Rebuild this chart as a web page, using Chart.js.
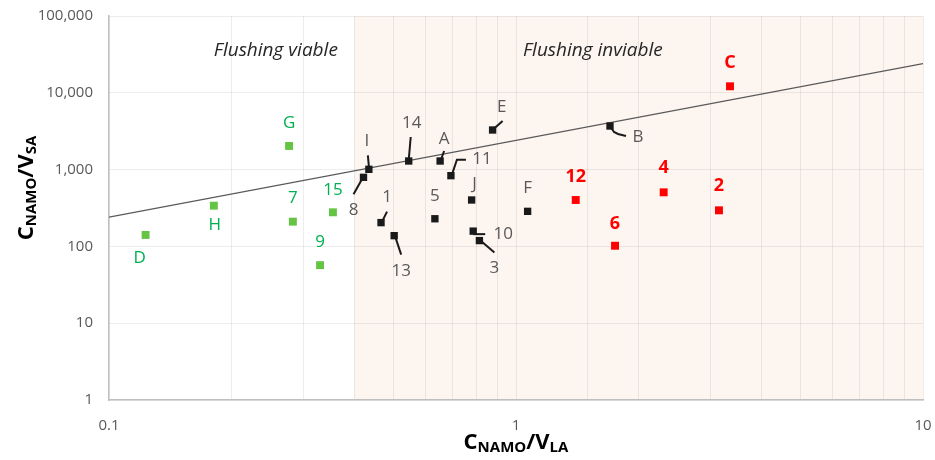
<!DOCTYPE html>
<html>
<head>
<meta charset="utf-8">
<script src="https://cdn.jsdelivr.net/npm/chart.js@4.4.1/dist/chart.umd.min.js"></script>
<style>
  html, body { margin: 0; padding: 0; background: #ffffff; }
  #wrap { position: relative; width: 935px; height: 460px; }
</style>
</head>
<body>
<div id="wrap"><canvas id="c" width="935" height="460"></canvas></div>
<script>
// ---------- data ----------
const greenNames = ['D', 'H', '7', '9', '15', 'G'];
const greenX = [0.123, 0.181, 0.283, 0.330, 0.355, 0.277];
const greenY = [141, 339, 210, 57, 278, 2030];

const blackNames = ['I', '8', '14', 'A', '11', 'E', '1', '13', '5', 'J', '10', '3', 'F', 'B'];
const blackX = [0.435, 0.422, 0.545, 0.651, 0.692, 0.876, 0.466, 0.502, 0.632, 0.778, 0.785, 0.813, 1.068, 1.702];
const blackY = [1009, 793, 1294, 1294, 834, 3279, 204, 138, 229, 402, 158, 119, 286, 3697];

const redNames = ['12', '6', '4', '2', 'C'];
const redX = [1.402, 1.751, 2.306, 3.153, 3.356];
const redY = [402, 102, 506, 295, 12156];

const trendX = [0.1, 10];
const trendY = [240, 24000];

const xDecades = [0.1, 1, 10];
const yDecades = [1, 10, 100, 1000, 10000, 100000];

const inviableFrom = 0.4;
const inviableTo = 10;
const regionTexts = ['Flushing viable', 'Flushing inviable'];
const regionTextX = [0.257, 1.545];
const regionTextY = 35000;

// ---------- label layout (pixel offsets from the point) ----------
const labelLayout = {
  'D': {d: [-6, 23]}, 'H': {d: [1, 19]}, '7': {d: [0, -23]}, '9': {d: [0, -23]},
  '15': {d: [0, -22]}, 'G': {d: [0, -23]},
  'I': {d: [-2, -28], l: [[-1, -14], [0, -3]]},
  '8': {d: [-10, 33], l: [[-10, 17], [-1, 1]]},
  '14': {d: [3, -38], l: [[2, -24], [0, -1]]},
  'A': {d: [4, -22], l: [[4, -10], [1, -2]]},
  '11': {d: [31, -16], l: [[15, -16], [6, -16], [1, -1]]},
  'E': {d: [9, -23], l: [[10, -9], [1, -1]]},
  '1': {d: [6, -25], l: [[6, -11], [1, -1]]},
  '13': {d: [7, 35], l: [[1, 1], [7, 19]]},
  '5': {d: [0, -23]}, 'J': {d: [3, -16]},
  '10': {d: [30, 3], l: [[0, 3], [12, 3]]},
  '3': {d: [15, 28], l: [[1, 0], [15, 12]]},
  'F': {d: [0, -23]},
  'B': {d: [28, 11], l: [[0, 0], [4, 6], [8, 8], [16, 10]]},
  '12': {d: [0, -23]}, '6': {d: [0, -22]}, '4': {d: [0, -24]}, '2': {d: [0, -24]}, 'C': {d: [0, -23]}
};

const pts = (xs, ys) => xs.map((x, i) => ({x: x, y: ys[i]}));

const groups = [
  {names: greenNames, color: '#00b050', font: '17px "Open Sans"'},
  {names: blackNames, color: '#595959', font: '17px "Open Sans"'},
  {names: redNames, color: '#ff0000', font: 'bold 18px "Open Sans"'}
];

const bgPlugin = {
  id: 'bg',
  beforeDraw(chart) {
    const {ctx, chartArea, scales} = chart;
    const x0 = scales.x.getPixelForValue(inviableFrom);
    const x1 = scales.x.getPixelForValue(inviableTo);
    ctx.save();
    ctx.fillStyle = '#fdf5f0';
    ctx.fillRect(x0, chartArea.top, x1 - x0, chartArea.bottom - chartArea.top);
    ctx.restore();
  }
};

function drawSubTitle(ctx, parts, cx, cy) {
  let total = 0;
  const widths = parts.map(p => {
    ctx.font = p[1] ? 'bold 15px "Open Sans"' : 'bold 22px "Open Sans"';
    const w = ctx.measureText(p[0]).width;
    total += w;
    return w;
  });
  let x = cx - total / 2;
  parts.forEach((p, i) => {
    ctx.font = p[1] ? 'bold 15px "Open Sans"' : 'bold 22px "Open Sans"';
    ctx.fillText(p[0], x, cy + (p[1] ? 5 : 0));
    x += widths[i];
  });
}

const labelPlugin = {
  id: 'labels',
  afterDatasetsDraw(chart) {
    const {ctx, scales} = chart;
    ctx.save();
    ctx.fillStyle = '#262626';
    ctx.font = 'italic 19px "Open Sans"';
    ctx.textAlign = 'center';
    ctx.textBaseline = 'middle';
    regionTexts.forEach((t, i) => {
      ctx.fillText(t, scales.x.getPixelForValue(regionTextX[i]), scales.y.getPixelForValue(regionTextY));
    });
    groups.forEach((g, gi) => {
      const meta = chart.getDatasetMeta(gi);
      meta.data.forEach((el, i) => {
        const name = g.names[i];
        const lay = labelLayout[name];
        if (!lay) return;
        if (lay.l) {
          ctx.strokeStyle = '#1a1a1a';
          ctx.lineWidth = 2;
          ctx.beginPath();
          lay.l.forEach((p, k) => {
            if (k === 0) ctx.moveTo(el.x + p[0], el.y + p[1]);
            else ctx.lineTo(el.x + p[0], el.y + p[1]);
          });
          ctx.stroke();
        }
        ctx.fillStyle = g.color;
        ctx.font = g.font;
        ctx.fillText(name, el.x + lay.d[0], el.y + lay.d[1]);
      });
    });
    ctx.restore();
  },
  afterDraw(chart) {
    const {ctx, chartArea} = chart;
    ctx.save();
    ctx.fillStyle = '#000000';
    ctx.textBaseline = 'middle';
    ctx.textAlign = 'left';
    drawSubTitle(ctx, [['C', false], ['NAMO', true], ['/V', false], ['LA', true]],
      (chartArea.left + chartArea.right) / 2, 443);
    ctx.translate(27, 188);
    ctx.rotate(-Math.PI / 2);
    drawSubTitle(ctx, [['C', false], ['NAMO', true], ['/V', false], ['SA', true]], 0, 0);
    ctx.restore();
  }
};

new Chart(document.getElementById('c'), {
  type: 'scatter',
  data: {
    datasets: [
      {label: 'viable', data: pts(greenX, greenY), backgroundColor: '#66c445', borderColor: '#66c445',
       pointStyle: 'rect', pointRadius: 5.6, borderWidth: 0},
      {label: 'near', data: pts(blackX, blackY), backgroundColor: '#1a1a1a', borderColor: '#1a1a1a',
       pointStyle: 'rect', pointRadius: 5.2, borderWidth: 0},
      {label: 'inviable', data: pts(redX, redY), backgroundColor: '#ff0000', borderColor: '#ff0000',
       pointStyle: 'rect', pointRadius: 5.6, borderWidth: 0},
      {type: 'line', label: 'trend', data: pts(trendX, trendY), borderColor: '#595959', borderWidth: 1.2,
       pointRadius: 0, showLine: true, fill: false}
    ]
  },
  options: {
    responsive: false,
    animation: false,
    events: [],
    layout: {padding: {left: 0, right: 12, top: 16, bottom: 0}},
    plugins: {legend: {display: false}, tooltip: {enabled: false}},
    scales: {
      x: {
        type: 'logarithmic', min: 0.1, max: 10,
        grid: {color: 'rgba(0,0,0,0.07)', drawTicks: false},
        border: {color: '#bfbfbf', width: 1.5},
        ticks: {
          color: '#595959', font: {family: 'Open Sans', size: 15}, padding: 17,
          autoSkip: false, maxRotation: 0,
          callback: (v) => xDecades.some(d => Math.abs(d - v) < 1e-9) ? String(v) : ''
        },
        afterFit: (s) => { s.height = 60; s.paddingLeft = 0; s.paddingRight = 0; }
      },
      y: {
        type: 'logarithmic', min: 1, max: 100000,
        grid: {color: 'rgba(0,0,0,0.07)', drawTicks: false},
        border: {color: '#bfbfbf', width: 1.5},
        afterBuildTicks: (s) => { s.ticks = yDecades.map(v => ({value: v})); },
        ticks: {
          color: '#595959', font: {family: 'Open Sans', size: 15}, padding: 16,
          autoSkip: false,
          callback: (v) => Number(v).toLocaleString('en-US')
        },
        afterFit: (s) => { s.width = 109; s.paddingTop = 0; s.paddingBottom = 0; }
      }
    }
  },
  plugins: [bgPlugin, labelPlugin]
});
</script>
</body>
</html>
